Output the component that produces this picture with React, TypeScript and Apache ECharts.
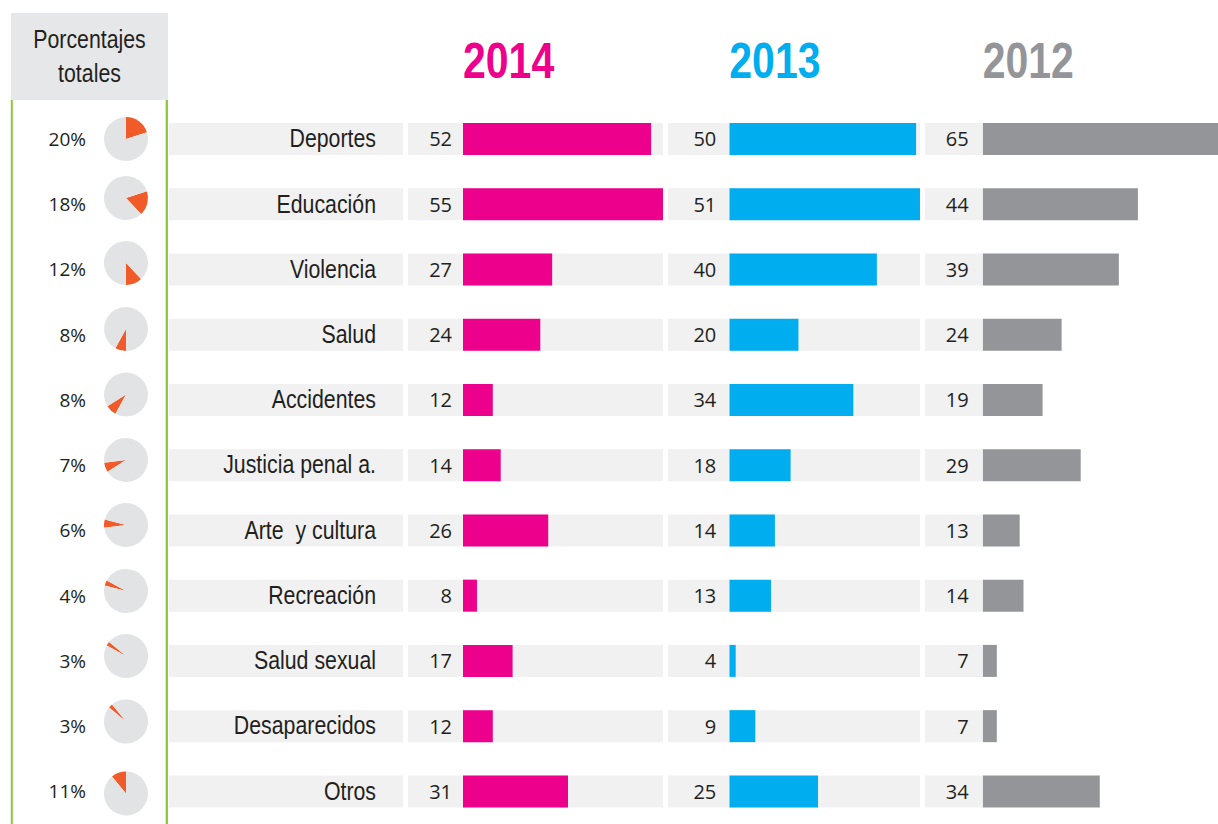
import React, { useEffect, useRef } from "react";
import * as echarts from "echarts";

const categories = [
  "Deportes",
  "Educación",
  "Violencia",
  "Salud",
  "Accidentes",
  "Justicia penal a.",
  "Arte  y cultura",
  "Recreación",
  "Salud sexual",
  "Desaparecidos",
  "Otros",
];
const totals = [20, 18, 12, 8, 8, 7, 6, 4, 3, 3, 11];
const v2014 = [52, 55, 27, 24, 12, 14, 26, 8, 17, 12, 31];
const v2013 = [50, 51, 40, 20, 34, 18, 14, 13, 4, 9, 25];
const v2012 = [65, 44, 39, 24, 19, 29, 13, 14, 7, 7, 34];
const years = ["2014", "2013", "2012"];

// layout / style
const NARROW = "'Liberation Sans', Arial, sans-serif";
const NARROW_SCALE = 0.82;
const SANS = "'Open Sans', 'Noto Sans', sans-serif";
const TEXT = "#231f20";
const BAND = "#f1f1f2";
const ROW_TOP = 106.35;
const ROW_H = 718.3;
const BAR_W = 32;
const pieCenterY = [139, 198, 263, 329, 394.5, 460, 525, 591, 656, 721.5, 793.5];

const columns = [
  { year: years[0], values: v2014, color: "#ec008c", labelLeft: 408, barLeft: 463, barRight: 663, axisMin: 4.47, axisMax: 55, bg: true, padR: 11 },
  { year: years[1], values: v2013, color: "#00aeef", labelLeft: 668, barLeft: 729.3, barRight: 920, axisMin: 2.37, axisMax: 51, bg: true, padR: 13 },
  { year: years[2], values: v2012, color: "#939598", labelLeft: 925, barLeft: 982.7, barRight: 1226.2, axisMin: 3.3, axisMax: 65, bg: false, padR: 14 },
];

export default function App() {
  const ref = useRef<HTMLDivElement>(null);
  useEffect(() => {
    document.body.style.margin = "0";
    if (!ref.current) return;
    const chart = echarts.init(ref.current, undefined, { renderer: "svg" });

    const grid: any[] = [];
    const xAxis: any[] = [];
    const yAxis: any[] = [];
    const series: any[] = [];

    const catY = (gi: number, data: string[], showLabel: any) => ({
      gridIndex: gi,
      type: "category",
      data,
      inverse: true,
      axisLine: { show: false },
      axisTick: { show: false },
      splitLine: { show: false },
      axisLabel: showLabel,
    });

    columns.forEach((c, i) => {
      grid.push({ left: c.barLeft, width: c.barRight - c.barLeft, top: ROW_TOP, height: ROW_H });
      xAxis.push({ gridIndex: i, type: "value", min: c.axisMin, max: c.axisMax, show: false });
      yAxis.push(catY(i, categories, { show: false }));
      series.push({
        type: "bar",
        xAxisIndex: i,
        yAxisIndex: i,
        data: c.values,
        barWidth: BAR_W,
        itemStyle: { color: c.color },
        showBackground: c.bg,
        backgroundStyle: { color: BAND },
        clip: true,
        silent: true,
        label: {
          show: true,
          position: "left",
          distance: 0,
          formatter: "{c}",
          color: TEXT,
          fontFamily: SANS,
          fontSize: 20,
          backgroundColor: BAND,
          width: c.barLeft - c.labelLeft - c.padR,
          height: BAR_W,
          lineHeight: BAR_W,
          align: "right",
          verticalAlign: "middle",
          padding: [0, c.padR, 0, 0],
        },
      });
    });

    // percentage labels grid (index 3)
    grid.push({ left: 95, width: 10, top: ROW_TOP, height: ROW_H });
    xAxis.push({ gridIndex: 3, type: "value", show: false });
    yAxis.push(
      catY(
        3,
        totals.map((t) => t + "%"),
        { show: true, margin: 9, color: TEXT, fontFamily: SANS, fontSize: 19 }
      )
    );

    // category band grid (index 4)
    grid.push({ left: 169, width: 234, top: ROW_TOP, height: ROW_H });
    xAxis.push({ gridIndex: 4, type: "value", min: 0, max: 1, show: false });
    yAxis.push(catY(4, categories, { show: false }));
    series.push({
      type: "custom",
      xAxisIndex: 4,
      yAxisIndex: 4,
      silent: true,
      encode: { x: 0, y: 1 },
      data: categories.map((c) => [0, c]),
      renderItem: (params: any, api: any) => {
        const pt = api.coord([0, api.value(1)]);
        const cs = params.coordSys;
        return {
          type: "group",
          children: [
            { type: "rect", shape: { x: cs.x, y: pt[1] - BAR_W / 2, width: cs.width, height: BAR_W }, style: { fill: BAND } },
            {
              type: "text",
              x: cs.x + cs.width - 27,
              y: pt[1] - 1,
              scaleX: NARROW_SCALE,
              style: {
                text: categories[params.dataIndex],
                fill: TEXT,
                fontSize: 26,
                fontFamily: NARROW,
                align: "right",
                verticalAlign: "middle",
              },
            },
          ],
        };
      },
    });

    // pies
    let cum = 0;
    totals.forEach((t, i) => {
      series.push({
        type: "pie",
        center: [126, pieCenterY[i]],
        radius: 22,
        startAngle: 90 - cum * 3.6,
        clockwise: true,
        silent: true,
        label: { show: false },
        labelLine: { show: false },
        itemStyle: { borderWidth: 0 },
        data: [
          { value: t, itemStyle: { color: "#f15a29" } },
          { value: 100 - t, itemStyle: { color: "#e2e3e5" } },
        ],
      });
      cum += t;
    });

    const graphic: any[] = [
      { type: "rect", shape: { x: 11, y: 13, width: 157, height: 87 }, style: { fill: "#e6e7e8" }, silent: true },
      {
        type: "text",
        x: 89.5,
        y: 39,
        scaleX: NARROW_SCALE,
        style: { text: "Porcentajes", fill: TEXT, fontSize: 26, fontFamily: NARROW, align: "center", verticalAlign: "middle" },
        silent: true,
      },
      {
        type: "text",
        x: 89.5,
        y: 73,
        scaleX: NARROW_SCALE,
        style: { text: "totales", fill: TEXT, fontSize: 26, fontFamily: NARROW, align: "center", verticalAlign: "middle" },
        silent: true,
      },
      { type: "line", shape: { x1: 11.8, y1: 100, x2: 11.8, y2: 824 }, style: { stroke: "#8dc63f", lineWidth: 2 }, silent: true, z: 10 },
      { type: "line", shape: { x1: 166.8, y1: 100, x2: 166.8, y2: 824 }, style: { stroke: "#8dc63f", lineWidth: 2.3 }, silent: true, z: 10 },
      ...columns.map((c) => ({
        type: "text",
        x: c.barLeft,
        y: 61,
        scaleX: NARROW_SCALE,
        style: { text: c.year, fill: c.color, fontSize: 50, fontWeight: "bold", fontFamily: NARROW, align: "left", verticalAlign: "middle" },
        silent: true,
      })),
    ];

    chart.setOption({
      animation: false,
      backgroundColor: "#ffffff",
      grid,
      xAxis,
      yAxis,
      series,
      graphic,
    });
    return () => chart.dispose();
  }, []);
  return <div ref={ref} style={{ width: 1218, height: 824 }} />;
}
